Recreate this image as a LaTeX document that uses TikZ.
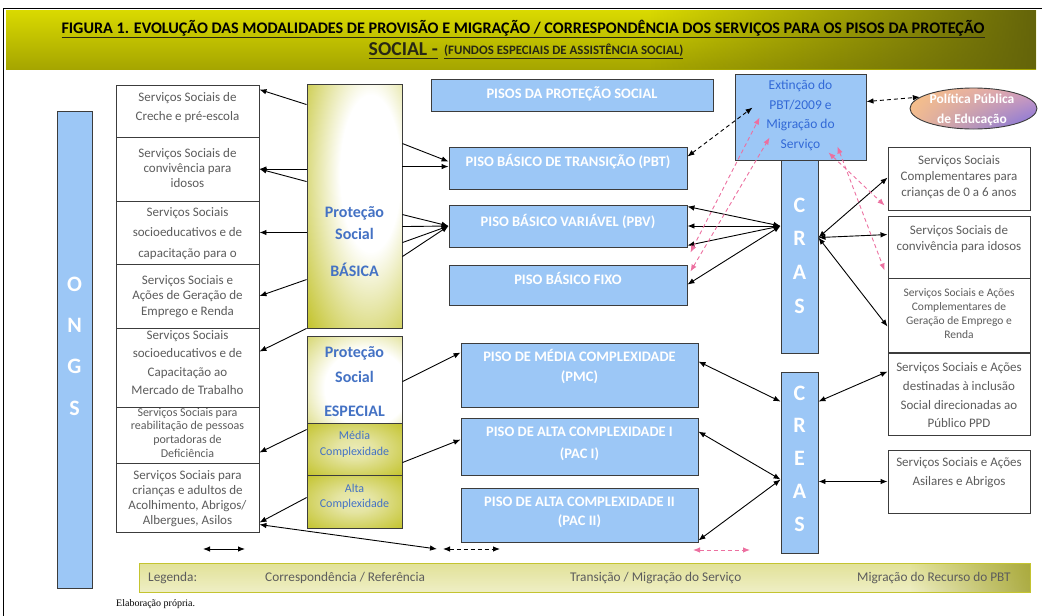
\documentclass[tikz,border=0pt]{standalone}
\usepackage{fontspec}
\setmainfont{Carlito}
\newfontfamily\serifTNR{Liberation Serif}
\usetikzlibrary{arrows.meta,shapes.geometric,calc,fadings,shadings}
\definecolor{bluefill}{RGB}{156,199,246}
\definecolor{edge}{RGB}{60,60,60}
\definecolor{olv}{RGB}{196,196,48}
\definecolor{olvdark}{RGB}{100,100,10}
\definecolor{txtgray}{RGB}{92,92,92}
\definecolor{txtblue}{RGB}{68,114,196}
\definecolor{extblue}{RGB}{50,105,215}
\definecolor{pinkc}{RGB}{236,112,160}
\definecolor{ylw}{RGB}{218,218,0}
\definecolor{ylwlow}{RGB}{165,165,0}
\definecolor{titletext}{RGB}{40,40,20}
\definecolor{peach}{RGB}{250,195,130}
\definecolor{violet}{RGB}{120,110,225}
\definecolor{pinkish}{RGB}{215,160,190}
\definecolor{peachmix}{RGB}{240,185,150}
\pgfdeclareradialshading{basShade}{\pgfpoint{10bp}{8bp}}{color(0bp)=(white); color(16bp)=(white); color(42bp)=(olv); color(100bp)=(olv)}
\pgfdeclareradialshading{espShade}{\pgfpoint{8bp}{-6bp}}{color(0bp)=(white); color(22bp)=(white); color(50bp)=(olv); color(100bp)=(olv)}
\pgfdeclareradialshading{subShade}{\pgfpoint{0bp}{0bp}}{color(0bp)=(white!65!olv); color(10bp)=(white!55!olv); color(35bp)=(olv); color(100bp)=(olv!85!black)}
\tikzfading[name=fadeR, left color=transparent!100, right color=transparent!0]
\newsavebox\titlebox
\tikzset{
  wbox/.style={draw=edge, line width=0.9pt, fill=white, inner sep=0pt},
  bbox/.style={draw=edge, line width=0.9pt, fill=bluefill, inner sep=0pt},
  graytxt/.style={text=txtgray, align=center, inner sep=0pt, font=\fontsize{13}{#1}\selectfont},
  pisotxt/.style={text=white, align=center, inner sep=0pt, font=\bfseries\fontsize{14.5}{#1}\selectfont},
  bigletter/.style={text=white, align=center, inner sep=0pt, font=\bfseries\fontsize{22}{#1}\selectfont},
  protxt/.style={text=txtblue, align=center, inner sep=0pt, font=\bfseries\fontsize{16}{#1}\selectfont},
  subtxt/.style={text=txtblue, align=center, inner sep=0pt, font=\fontsize{12}{#1}\selectfont},
  legtxt/.style={text=txtgray, anchor=west, inner sep=0pt, font=\fontsize{13.3}{15}\selectfont},
  titletxt/.style={text=titletext, inner sep=0pt},
  arr/.style={line width=0.9pt, -{Latex[length=7pt,width=5.5pt]}},
  darr/.style={line width=0.9pt, {Latex[length=7pt,width=5.5pt]}-{Latex[length=7pt,width=5.5pt]}},
  ddash/.style={darr, dash pattern=on 4pt off 3pt},
  pdash/.style={ddash, draw=pinkc, color=pinkc}
}
\begin{document}
\sbox\titlebox{\bfseries\fontsize{14}{16}\selectfont FIGURA 1. EVOLUÇÃO DAS MODALIDADES DE PROVISÃO E MIGRAÇÃO / CORRESPONDÊNCIA DOS SERVIÇOS PARA OS PISOS DA PROTEÇÃO}
\begin{tikzpicture}[x=1pt,y=-1pt]
\useasboundingbox (0,0) rectangle (1042,616);
\pgfmathsetmacro{\ts}{923/\the\wd\titlebox}
\pgfmathsetmacro{\tsb}{1.22*\ts}
% frame
\draw[line width=0.8pt] (3,616) -- (3,8) -- (1042,8);
% title banner
\shade[top color=ylw, bottom color=ylwlow] (6,10) rectangle (1036,69);
\fill[olvdark, path fading=fadeR] (650,10) rectangle (1036,69);
\node[titletxt] (t1) at (523,29) {\scalebox{\ts}{\underline{\usebox\titlebox}}};
\node[titletxt, anchor=east] (t2a) at (438,51) {\scalebox{\tsb}{\underline{\bfseries\fontsize{14}{16}\selectfont SOCIAL -}}};
\node[titletxt, anchor=west] (t2b) at (444,51) {\resizebox{239pt}{!}{\underline{\bfseries\fontsize{10}{12}\selectfont (FUNDOS ESPECIAIS DE ASSISTÊNCIA SOCIAL)}}};

% ONGS bar
\node[bbox, minimum width=35pt, minimum height=477pt] (ongs) at (74.5,349.5) {};
\node[bigletter=41.3] (ongsT) at (74.5,346) {O\\N\\G\\S};

% left boxes
\node[wbox, minimum width=143pt, minimum height=52pt] (l1) at (187.5,111) {};
\node[wbox, minimum width=143pt, minimum height=64pt] (l2) at (187.5,169) {};
\node[wbox, minimum width=143pt, minimum height=63pt] (l3) at (187.5,232.5) {};
\node[wbox, minimum width=143pt, minimum height=64pt] (l4) at (187.5,296) {};
\node[wbox, minimum width=143pt, minimum height=79pt] (l5) at (187.5,367.5) {};
\node[wbox, minimum width=143pt, minimum height=56pt] (l6) at (187.5,435) {};
\node[wbox, minimum width=143pt, minimum height=69pt] (l7) at (187.5,497.5) {};
\node[graytxt=19] (l1t) at (187.5,107.5) {Serviços Sociais de\\Creche e pré-escola};
\node[graytxt=15] (l2t) at (187.5,168) {Serviços Sociais de\\convivência para\\idosos};
\node[graytxt=20.5] (l3t) at (187.5,233.5) {Serviços Sociais\\socioeducativos e de\\capacitação para o};
\node[graytxt=15.5] (l4t) at (187.5,296.5) {Serviços Sociais e\\Ações de Geração de\\Emprego e Renda};
\node[graytxt=18.3] (l5t) at (187.5,362.5) {Serviços Sociais\\socioeducativos e de\\Capacitação ao\\Mercado de Trabalho};
\node[text=txtgray, align=center, inner sep=0pt, font=\fontsize{12}{13.7}\selectfont] (l6t) at (187.5,432.5) {Serviços Sociais para\\reabilitação de pessoas\\portadoras de\\Deficiência};
\node[graytxt=15] (l7t) at (187.5,499) {Serviços Sociais para\\crianças e adultos de\\Acolhimento, Abrigos/\\Albergues, Asilos};

% Protecao Social Basica / Especial
\node[draw=edge, line width=0.9pt, inner sep=0pt, shade, shading=basShade, minimum width=95pt, minimum height=244pt] (bas) at (354.5,206) {};
\node[protxt=22] (basT) at (354.5,242) {Proteção\\Social\\[15pt]BÁSICA};
\node[draw=edge, line width=0.9pt, inner sep=0pt, shade, shading=espShade, minimum width=95pt, minimum height=87pt] (esT) at (354.5,379.5) {};
\node[draw=edge, line width=0.9pt, inner sep=0pt, shade, shading=subShade, minimum width=95pt, minimum height=52pt] (esM) at (354.5,449) {};
\node[draw=edge, line width=0.9pt, inner sep=0pt, shade, shading=subShade, minimum width=95pt, minimum height=53pt] (esA) at (354.5,501.5) {};
\node[protxt=25] (esTT) at (354.5,381.5) {Proteção\\Social\\[9pt]ESPECIAL};
\node[subtxt=16] (esMT) at (354.5,444) {Média\\Complexidade};
\node[subtxt=15] (esAT) at (354.5,496.5) {Alta\\Complexidade};

% pisos
\node[bbox, minimum width=282pt, minimum height=32pt] (pisos) at (572,95) {};
\node[pisotxt=15] (pisosT) at (572,94) {PISOS DA PROTEÇÃO SOCIAL};
\node[bbox, minimum width=238pt, minimum height=42pt] (pbt) at (568,168) {};
\node[pisotxt=15] (pbtT) at (568,162) {PISO BÁSICO DE TRANSIÇÃO (PBT)};
\node[bbox, minimum width=238pt, minimum height=42pt] (pbv) at (568,226) {};
\node[pisotxt=15] (pbvT) at (568,222) {PISO BÁSICO VARIÁVEL (PBV)};
\node[bbox, minimum width=238pt, minimum height=40pt] (fixo) at (568,285) {};
\node[pisotxt=15] (fixoT) at (568,278) {PISO BÁSICO FIXO};
\node[bbox, minimum width=237pt, minimum height=64pt] (pmc) at (579.5,375) {};
\node[pisotxt=20] (pmcT) at (579.5,367) {PISO DE MÉDIA COMPLEXIDADE\\(PMC)};
\node[bbox, minimum width=237pt, minimum height=57pt] (paci) at (579.5,446.5) {};
\node[pisotxt=22] (paciT) at (579.5,444) {PISO DE ALTA COMPLEXIDADE I\\(PAC I)};
\node[bbox, minimum width=237pt, minimum height=54pt] (pacii) at (579.5,515) {};
\node[pisotxt=19] (paciiT) at (579.5,512.5) {PISO DE ALTA COMPLEXIDADE II\\(PAC II)};

% CRAS / CREAS / Extincao
\node[bbox, minimum width=37pt, minimum height=193pt] (cras) at (799.5,256.5) {};
\node[bigletter=33.7] (crasT) at (799.5,255.5) {C\\R\\A\\S};
\node[bbox, minimum width=37pt, minimum height=181pt] (creas) at (799.5,462.5) {};
\node[bigletter=32.75] (creasT) at (799.5,458.5) {C\\R\\E\\A\\S};
\node[bbox, minimum width=131pt, minimum height=86pt] (ext) at (800.5,117) {};
\node[text=extblue, align=center, inner sep=0pt, font=\fontsize{13.5}{19.7}\selectfont] (extT) at (800.5,115.5) {Extinção do\\PBT/2009 e\\Migração do\\Serviço};

% ellipse
\node[ellipse, draw=edge, line width=0.9pt, inner sep=0pt, minimum width=127pt, minimum height=41pt,
  upper left=peach, upper right=pinkish, lower left=peachmix, lower right=violet] (pol) at (973.5,108.5) {};
\node[text=white, align=center, inner sep=0pt, font=\bfseries\fontsize{13.5}{20}\selectfont] (polT) at (972,110) {Política Pública\\de Educação};

% right boxes
\node[wbox, minimum width=142pt, minimum height=63pt] (rA) at (959,178.5) {};
\node[wbox, minimum width=142pt, minimum height=62pt] (rB) at (959,247) {};
\node[wbox, minimum width=142pt, minimum height=74pt] (rC) at (959,315) {};
\node[wbox, minimum width=142pt, minimum height=82pt] (rD) at (959,394) {};
\node[wbox, minimum width=142pt, minimum height=63pt] (rE) at (959,481.5) {};
\node[graytxt=16] (rAt) at (959,177) {Serviços Sociais\\Complementares para\\crianças de 0 a 6 anos};
\node[graytxt=16] (rBt) at (959,239) {Serviços Sociais de\\convivência para idosos};
\node[text=txtgray, align=center, inner sep=0pt, font=\fontsize{11.5}{14}\selectfont] (rCt) at (959,314) {Serviços Sociais e Ações\\Complementares de\\Geração de Emprego e\\Renda};
\node[graytxt=18.7] (rDt) at (959,395.5) {Serviços Sociais e Ações\\destinadas à inclusão\\Social direcionadas ao\\Público PPD};
\node[graytxt=19] (rEt) at (959,472.5) {Serviços Sociais e Ações\\Asilares e Abrigos};

% legend
\node[draw=olv, line width=1pt, inner sep=0pt, minimum width=891pt, minimum height=29pt,
  top color=olv!50!white, middle color=white, bottom color=olv!28!white] (leg) at (584.5,577.5) {};
\fill[olv!80!black, path fading=fadeR, opacity=0.8] (910,563.5) rectangle (1029.5,591.5);
\node[legtxt] (legA) at (148,578) {Legenda:};
\node[legtxt] (legB) at (265,578) {Correspondência / Referência};
\node[legtxt] (legC) at (570,578) {Transição / Migração do Serviço};
\node[legtxt] (legD) at (857,578) {Migração do Recurso do PBT};
\coordinate (k1a) at (203,549); \coordinate (k1b) at (245,549);
\coordinate (k2a) at (443,549); \coordinate (k2b) at (500,549);
\coordinate (k3a) at (693,550); \coordinate (k3b) at (750,550);
\draw[darr] (k1a) -- (k1b);
\draw[ddash] (k2a) -- (k2b);
\draw[pdash] (k3a) -- (k3b);
\node[inner sep=0pt, anchor=west, font=\serifTNR\fontsize{10}{12}\selectfont] (elab) at (116,604) {Elaboração própria.};

% Basica -> left boxes
\draw[arr] ([yshift=-21pt]bas.north west) -- ([yshift=-5pt]l1.north east);
\draw[arr] (bas.west |- l2.east) -- (l2.east);
\draw[arr] ([yshift=-98pt]bas.north west) -- (l2.east);
\draw[arr] (bas.west |- l3.east) -- (l3.east);
\draw[arr] ([yshift=-196pt]bas.north west) -- (l4.east);
\draw[arr] (bas.south west) -- ([yshift=-24pt]l5.north east);
\draw[arr] ([yshift=-7pt]esM.north west) -- ([yshift=-46pt]l6.north east);
\draw[arr] ([yshift=-23pt]esA.north west) -- ([yshift=-60pt]l7.north east);
\coordinate (c8) at (437,549);
\draw[darr] ([yshift=-62pt]l7.north east) -- (c8);

% Basica -> pisos
\draw[arr] ([yshift=-60pt]bas.north east) -- ([yshift=-15pt]pbt.north west);
\draw[arr] ([yshift=-83pt]bas.north east) -- ([yshift=-20pt]pbt.north west);
\draw[arr] ([yshift=-131pt]bas.north east) -- (pbv.west);
\draw[arr] ([yshift=-143pt]bas.north east) -- (pbv.west);
\draw[arr] ([yshift=-159pt]bas.north east) -- (pbv.west);
\draw[arr] ([yshift=-173pt]bas.north east) -- (pbv.west);
\draw[arr] ([yshift=-46pt]esT.north east) -- ([yshift=-10pt]pmc.north west);
\draw[arr] ([yshift=-40pt]esM.north east) -- ([yshift=-22pt]paci.north west);

% CRAS <-> pisos
\coordinate (crasL) at (cras.west |- pbv.west);
\draw[darr] (crasL) -- ([yshift=-2pt]pbv.north east);
\draw[darr] (crasL) -- (pbv.east);
\draw[darr] (crasL) -- ([yshift=2pt]pbv.south east);
\draw[darr] (crasL) -- ([yshift=-20pt]fixo.north east);
% CRAS <-> right boxes
\coordinate (crasR) at ([yshift=-78pt]cras.north east);
\draw[darr] (crasR) -- ([yshift=-31pt]rA.north west);
\draw[darr] (crasR) -- ([yshift=-19pt]rB.north west);
\draw[darr] (crasR) -- ([yshift=-49pt]rC.north west);
% pisos <-> CREAS
\coordinate (creasL) at ([yshift=-108pt]creas.north west);
\draw[darr] ([yshift=-19pt]pmc.north east) -- ([yshift=-30pt]creas.north west);
\draw[darr] ([yshift=-14pt]paci.north east) -- (creasL);
\draw[darr] ([yshift=2pt]pacii.south east) -- (creasL);
% CREAS <-> right boxes
\draw[darr] ([yshift=-30pt]creas.north east) -- ([yshift=-19pt]rD.north west);
\draw[darr] (creas.east |- rE.west) -- (rE.west);

% dashed black
\draw[ddash] ([yshift=-10pt]pbt.north east) -- ([xshift=18pt,yshift=-34pt]ext.north west);
\draw[ddash] ([yshift=-28pt]ext.north east) -- (pol.168);
% pink dashed
\draw[pdash] ([xshift=3pt,yshift=-5pt]pbv.south east) -- ([xshift=25pt,yshift=-44pt]ext.north west);
\draw[pdash] ([xshift=3pt,yshift=-7pt]fixo.north east) -- ([xshift=35pt,yshift=-64pt]ext.north west);
\draw[pdash] ([xshift=-38pt,yshift=8pt]ext.south east) -- ([xshift=-3pt,yshift=5pt]rA.south west);
\draw[pdash] ([xshift=-29pt,yshift=14pt]ext.south east) -- ([xshift=-3pt,yshift=8pt]rB.south west);
\end{tikzpicture}
\end{document}
